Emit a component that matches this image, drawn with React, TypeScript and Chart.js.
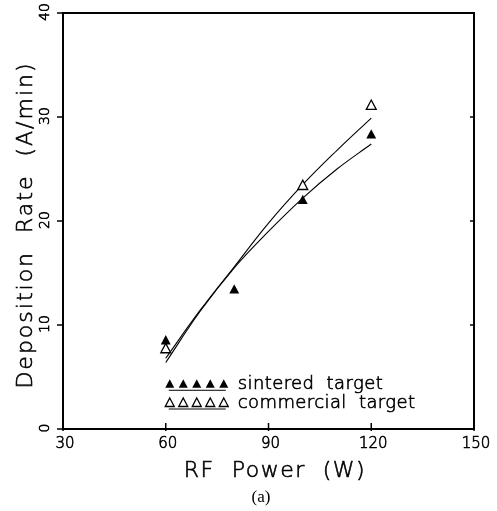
import { useEffect, useRef } from "react";
import { Chart, registerables } from "chart.js";

Chart.register(...registerables);

const xTicks = [30, 60, 90, 120, 150];
const yTicks = [0, 10, 20, 30, 40];

const sinteredX = [60, 80, 100, 120];
const sinteredY = [8.5, 13.4, 22.0, 28.3];

const commercialX = [60, 100, 120];
const commercialY = [7.7, 23.4, 31.1];

const fitX = [60, 70, 80, 90, 100, 110, 120];
const sinteredFitY = [6.4, 11.3, 15.5, 19.0, 22.2, 25.0, 27.4];
const commercialFitY = [6.8, 11.4, 15.6, 19.8, 23.5, 26.8, 29.9];

const legendLabels = ["sintered  target", "commercial  target"];
const xTitle = "RF  Power  (W)";
const yTitle = "Deposition  Rate  (A/min)";
const caption = "(a)";

const SANS = "'DejaVu Sans', sans-serif";

function tri(ctx: CanvasRenderingContext2D, cx: number, cy: number, r: number, filled: boolean) {
  ctx.beginPath();
  ctx.moveTo(cx, cy - r);
  ctx.lineTo(cx + r * 0.9, cy + r * 0.7);
  ctx.lineTo(cx - r * 0.9, cy + r * 0.7);
  ctx.closePath();
  if (filled) {
    ctx.fillStyle = "#000";
    ctx.fill();
  } else {
    ctx.fillStyle = "#fff";
    ctx.fill();
    ctx.lineWidth = 1.3;
    ctx.strokeStyle = "#000";
    ctx.stroke();
  }
}

function text(ctx: CanvasRenderingContext2D, s: string, x: number, y: number) {
  ctx.fillText(s, x, y);
  ctx.save();
  ctx.lineWidth = 0.6;
  ctx.strokeStyle = "#000";
  ctx.strokeText(s, x, y);
  ctx.restore();
}

const decorPlugin = {
  id: "decor",
  afterDraw(chart: any) {
    const { ctx, chartArea } = chart;
    const { left, right, top, bottom } = chartArea;
    const xs = chart.scales.x;
    const ys = chart.scales.y;
    ctx.save();
    ctx.strokeStyle = "#000";
    ctx.fillStyle = "#000";
    ctx.lineWidth = 2;
    ctx.strokeRect(left, top, right - left, bottom - top);

    ctx.lineWidth = 1.5;
    ctx.font = `300 15px ${SANS}`;
    ctx.textAlign = "center";
    ctx.textBaseline = "middle";
    for (const v of xTicks) {
      const px = xs.getPixelForValue(v);
      ctx.beginPath();
      ctx.moveTo(px, bottom + 2);
      ctx.lineTo(px, bottom - 6);
      ctx.stroke();
      text(ctx, String(v), px + 2, bottom + 15);
    }
    for (const v of yTicks) {
      const py = ys.getPixelForValue(v);
      ctx.lineWidth = 1.5;
      ctx.beginPath();
      ctx.moveTo(left - 6, py);
      ctx.lineTo(left, py);
      ctx.stroke();
      ctx.beginPath();
      ctx.moveTo(right, py);
      ctx.lineTo(right - 4, py);
      ctx.stroke();
      ctx.save();
      ctx.translate(left - 18, py - 1);
      ctx.rotate(-Math.PI / 2);
      ctx.font = `300 14px ${SANS}`;
      text(ctx, String(v), 0, 0);
      ctx.restore();
    }

    // titles
    ctx.font = `300 22px ${SANS}`;
    (ctx as any).letterSpacing = "1.5px";
    text(ctx, xTitle, 275, bottom + 42);
    ctx.save();
    ctx.font = `300 22px ${SANS}`;
    (ctx as any).letterSpacing = "2px";
    ctx.translate(left - 37, 225);
    ctx.rotate(-Math.PI / 2);
    text(ctx, yTitle, 0, 0);
    ctx.restore();
    (ctx as any).letterSpacing = "0px";
    ctx.font = `17px 'Liberation Serif', serif`;
    ctx.fillText(caption, 261, bottom + 69);

    // legend
    const lx = xs.getPixelForValue(60) + 4;
    const rows = [ys.getPixelForValue(4.3), ys.getPixelForValue(2.5)];
    ctx.textAlign = "left";
    ctx.font = `300 18px ${SANS}`;
    (ctx as any).letterSpacing = "0.4px";
    rows.forEach((ry, i) => {
      for (let k = 0; k < 5; k++) tri(ctx, lx + k * 13.5, ry, 5, i === 0);
      ctx.lineWidth = 1;
      ctx.beginPath();
      ctx.moveTo(lx - 1, ry + 6);
      ctx.lineTo(lx + 56, ry + 6);
      ctx.stroke();
      ctx.fillStyle = "#000";
      text(ctx, legendLabels[i], lx + 68, ry);
    });
    (ctx as any).letterSpacing = "0px";
    ctx.restore();
  },
};

const triPointPlugin = {
  id: "tripoints",
  afterDatasetsDraw(chart: any) {
    const ctx = chart.ctx;
    chart.data.datasets.forEach((ds: any, i: number) => {
      if (!ds.triMarker) return;
      const meta = chart.getDatasetMeta(i);
      meta.data.forEach((el: any) => {
        tri(ctx, el.x, el.y, 5.5, ds.triMarker === "filled");
      });
    });
  },
};

export default function App() {
  const ref = useRef<HTMLCanvasElement | null>(null);
  useEffect(() => {
    document.body.style.margin = "0";
    const c = ref.current!;
    const chart = new Chart(c, {
      type: "scatter",
      data: {
        datasets: [
          {
            label: "sintered fit",
            data: fitX.map((x, i) => ({ x, y: sinteredFitY[i] })),
            showLine: true,
            borderColor: "#000",
            borderWidth: 1.1,
            pointRadius: 0,
            tension: 0.4,
          } as any,
          {
            label: "commercial fit",
            data: fitX.map((x, i) => ({ x, y: commercialFitY[i] })),
            showLine: true,
            borderColor: "#000",
            borderWidth: 1.1,
            pointRadius: 0,
            tension: 0.4,
          } as any,
          {
            label: "sintered target",
            data: sinteredX.map((x, i) => ({ x, y: sinteredY[i] })),
            pointRadius: 0,
            triMarker: "filled",
          } as any,
          {
            label: "commercial target",
            data: commercialX.map((x, i) => ({ x, y: commercialY[i] })),
            pointRadius: 0,
            triMarker: "open",
          } as any,
        ],
      },
      options: {
        animation: false,
        responsive: true,
        maintainAspectRatio: false,
        layout: { padding: { left: 63, right: 23, top: 13, bottom: 82 } },
        plugins: { legend: { display: false }, tooltip: { enabled: false } },
        scales: {
          x: { type: "linear", min: 30, max: 150, display: false },
          y: { type: "linear", min: 0, max: 40, display: false },
        },
      },
      plugins: [triPointPlugin, decorPlugin],
    });
    return () => chart.destroy();
  }, []);
  return (
    <div style={{ width: 497, height: 511, position: "relative", background: "#fff" }}>
      <canvas ref={ref} />
    </div>
  );
}
